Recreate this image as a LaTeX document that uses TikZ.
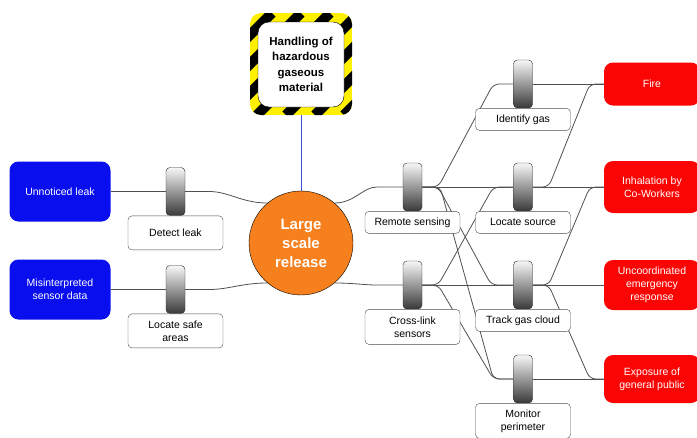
\documentclass[tikz,border=0pt]{standalone}
\usepackage{fontspec}
\setmainfont{Liberation Sans}
\usetikzlibrary{backgrounds}

\definecolor{hazyellow}{RGB}{255,240,0}
\definecolor{threatblue}{RGB}{8,14,238}
\definecolor{conseqred}{RGB}{250,4,4}
\definecolor{eventorange}{RGB}{246,128,30}
\definecolor{wiregray}{RGB}{80,80,80}
\definecolor{stemblue}{RGB}{60,80,225}

\tikzset{
	threat/.style={fill=threatblue,text=white,rounded corners=9pt,minimum width=101pt,minimum height=60pt,align=center},
	conseq/.style={fill=conseqred,text=white,rounded corners=9pt,minimum width=96pt,align=center},
	barrier/.style={draw=gray!30!black,rounded corners=4pt,minimum width=19pt,minimum height=48pt,inner sep=0pt,top color=gray!6,bottom color=gray!45!black},
	blabel/.style={draw=gray!60!black,fill=white,rounded corners=4pt,minimum width=95pt,minimum height=22pt,inner sep=1pt,align=center,anchor=north},
	conn/.style={draw=wiregray,line width=0.8pt,rounded corners=6pt},
}

\begin{document}
\begin{tikzpicture}[x=1pt,y=-1pt,font=\fontsize{10.5}{13}\selectfont]
	\useasboundingbox (0,0) rectangle (697,437);

	% hazard frame
	\begin{scope}
		\clip[rounded corners=11pt] (250,13) rectangle (352,115);
		\fill[hazyellow] (250,13) rectangle (352,115);
		\foreach \s in {141,170,...,380}
			\draw[line width=10pt] (\s,115) -- ++(102,-102);
	\end{scope}
	\node[draw=black,fill=white,rounded corners=11pt,minimum width=86pt,minimum height=85pt,align=center,font=\fontsize{11.5}{15.5}\selectfont\bfseries] (haz) at (301,64.5) {Handling of\\hazardous\\gaseous\\material};

	% top event
	\node[circle,draw=black,fill=eventorange,text=white,minimum size=104pt,align=center,font=\fontsize{15}{19}\selectfont\bfseries] (rel) at (301,243) {Large\\scale\\release};

	% threats
	\node[threat] (leak) at (60,191.5) {Unnoticed leak};
	\node[threat] (misread) at (60,289.5) {Misinterpreted\\sensor data};

	% consequences
	\node[conseq,minimum height=43pt] (fire) at (652,84) {Fire};
	\node[conseq,minimum height=52pt] (inhal) at (652,187) {Inhalation by\\Co-Workers};
	\node[conseq,minimum height=50pt] (uncoord) at (652,285) {Uncoordinated\\emergency\\response};
	\node[conseq,minimum height=48pt] (expo) at (652,379) {Exposure of\\general public};

	% barriers
	\node[barrier] (bDetect) at (175.5,191.5) {};
	\node[barrier] (bSafe) at (175.5,289.5) {};
	\node[barrier] (bRS) at (412.5,187) {};
	\node[barrier] (bCL) at (412.5,285) {};
	\node[barrier] (bIG) at (523,84) {};
	\node[barrier] (bLS) at (523,187) {};
	\node[barrier] (bTG) at (523,285) {};
	\node[barrier] (bMP) at (523,379) {};

	% barrier labels
	\node[blabel,minimum height=34pt] (tDetect) at (bDetect.south) {Detect leak};
	\node[blabel,minimum height=34pt] (tSafe) at (bSafe.south) {Locate safe\\areas};
	\node[blabel] (tRS) at (bRS.south) {Remote sensing};
	\node[blabel,minimum height=35pt] (tCL) at (bCL.south) {Cross-link\\sensors};
	\node[blabel] (tIG) at (bIG.south) {Identify gas};
	\node[blabel] (tLS) at (bLS.south) {Locate source};
	\node[blabel] (tTG) at (bTG.south) {Track gas cloud};
	\node[blabel,minimum height=35pt] (tMP) at (bMP.south) {Monitor\\perimeter};

	\begin{scope}[on background layer]
		\draw[stemblue,line width=0.6pt] (haz.south) -- (rel.north);
		% left side
		\draw[conn] (leak.east) -- (bDetect.west);
		\draw[conn] (bDetect.east) -- ++(18,0) to[out=0,in=180] (rel.130);
		\draw[conn] (misread.east) -- (bSafe.west);
		\draw[conn] (bSafe.east) -- ++(18,0) to[out=0,in=180] (rel.230);
		% right side
		\draw[conn] (rel.50) to[out=0,in=180] ([xshift=-20pt]bRS.west) -- (bRS.west);
		\draw[conn] (rel.-50) to[out=0,in=180] ([xshift=-20pt]bCL.west) -- (bCL.west);
		\draw[conn] (bRS.east) -- ++(16,0) -- ([xshift=-20pt]bIG.west) -- (bIG.west);
		\draw[conn] (bRS.east) -- (bLS.west);
		\draw[conn] (bRS.east) -- ++(16,0) -- ([xshift=-22pt]bTG.west) -- (bTG.west);
		\draw[conn] (bRS.east) -- ++(18,0) -- ([xshift=-20pt]bMP.west) -- (bMP.west);
		\draw[conn] (bCL.east) -- ++(16,0) -- ([xshift=-20pt]bLS.west) -- (bLS.west);
		\draw[conn] (bCL.east) -- (bTG.west);
		\draw[conn] (bCL.east) -- ++(16,0) -- ([xshift=-20pt]bMP.west) -- (bMP.west);
		\draw[conn] (bIG.east) -- (fire.west);
		\draw[conn] (bLS.east) -- ++(16,0) -- ([xshift=-14pt]fire.west) -- (fire.west);
		\draw[conn] (bLS.east) -- (inhal.west);
		\draw[conn] (bTG.east) -- ++(16,0) -- ([xshift=-14pt]inhal.west) -- (inhal.west);
		\draw[conn] (bTG.east) -- (uncoord.west);
		\draw[conn] (bTG.east) -- ++(16,0) -- ([xshift=-14pt]expo.west) -- (expo.west);
		\draw[conn] (bMP.east) -- (expo.west);
	\end{scope}
\end{tikzpicture}
\end{document}
